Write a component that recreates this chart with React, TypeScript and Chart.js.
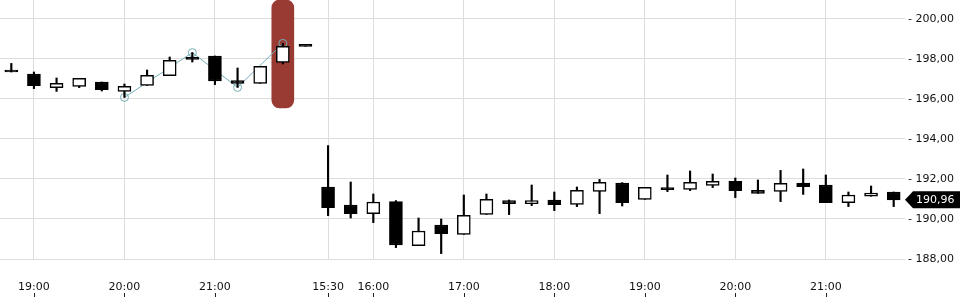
import React, { useEffect, useRef } from 'react';
import { Chart, registerables } from 'chart.js';

Chart.register(...registerables);

// 15-minute candles: two sessions
const times = [
  '18:45', '19:00', '19:15', '19:30', '19:45', '20:00', '20:15', '20:30', '20:45', '21:00', '21:15', '21:30', '21:45', '22:00',
  '15:30', '15:45', '16:00', '16:15', '16:30', '16:45', '17:00', '17:15', '17:30', '17:45', '18:00', '18:15', '18:30', '18:45',
  '19:00', '19:15', '19:30', '19:45', '20:00', '20:15', '20:30', '20:45', '21:00', '21:15', '21:30', '21:45',
];

// indices of the categories that carry an axis label
const labeledIdx = [1, 5, 9, 14, 16, 20, 24, 28, 32, 36];

const opens = [
  197.36, 197.25, 196.57, 196.63, 196.85, 196.38, 196.68, 197.17, 198.05, 198.15, 196.92, 196.78, 197.83, 198.63,
  191.6, 190.7, 190.27, 190.87, 188.67, 189.7, 189.23, 190.23, 190.92, 190.77, 190.95, 190.73, 191.38, 191.8,
  190.98, 191.55, 191.48, 191.68, 191.88, 191.43, 191.38, 191.8, 191.7, 190.82, 191.14, 191.35,
];
const highs = [
  197.78, 197.35, 197.05, 197.03, 196.85, 196.75, 197.45, 198.1, 198.32, 198.15, 197.55, 197.63, 198.78, 198.63,
  193.67, 191.85, 191.25, 190.92, 190.05, 190.0, 191.2, 191.25, 190.95, 191.7, 191.35, 191.6, 191.98, 191.82,
  191.58, 192.2, 192.4, 192.25, 192.05, 191.95, 192.43, 192.5, 192.2, 191.35, 191.65, 191.35,
];
const lows = [
  197.35, 196.52, 196.38, 196.57, 196.4, 196.08, 196.68, 197.17, 197.85, 196.72, 196.58, 196.78, 197.75, 198.63,
  190.17, 190.05, 189.82, 188.57, 188.67, 188.27, 189.23, 190.23, 190.22, 190.67, 190.42, 190.62, 190.27, 190.65,
  190.98, 191.37, 191.42, 191.57, 191.07, 191.28, 190.87, 191.23, 190.82, 190.62, 191.14, 190.62,
];
const closes = [
  197.35, 196.67, 196.78, 197.03, 196.47, 196.63, 197.18, 197.93, 197.98, 196.9, 196.78, 197.63, 198.63, 198.63,
  190.57, 190.27, 190.85, 188.7, 189.4, 189.27, 190.18, 190.98, 190.77, 190.92, 190.72, 191.43, 191.83, 190.82,
  191.58, 191.47, 191.83, 191.88, 191.42, 191.28, 191.78, 191.62, 190.82, 191.2, 191.3, 190.96,
];

// zigzag pivots (index -> value)
const zigzagIdx = [5, 8, 10, 12];
const zigzagVal = [196.08, 198.32, 196.58, 198.78];

// highlighted candle and its band
const highlightIdx = 12;
const highlightBand = [195.55, 200.95];

const yTickValues = [188, 190, 192, 194, 196, 198, 200];
const yMin = 188;
const yMax = 200.95;

const FONT = 'DejaVu Sans';
const fmt = (v: number) => v.toFixed(2).replace('.', ',');

export default function App() {
  const ref = useRef<HTMLCanvasElement | null>(null);

  useEffect(() => {
    document.body.style.margin = '0';
    const canvas = ref.current;
    if (!canvas) return;

    const n = times.length;
    const bodies = opens.map((o, i) => [o, closes[i]]);
    const wicks = lows.map((l, i) => [l, highs[i]]);
    const bodyColors = opens.map((o, i) => (closes[i] <= o ? '#000000' : '#ffffff'));
    const zig: (number | null)[] = new Array(n).fill(null);
    zigzagIdx.forEach((ix, k) => (zig[ix] = zigzagVal[k]));
    const hl: (number[] | null)[] = new Array(n).fill(null);
    hl[highlightIdx] = highlightBand;
    const lastClose = closes[n - 1];

    const xTickMarks = {
      id: 'xTickMarks',
      afterDraw(chart: any) {
        const xs = chart.scales.x;
        const ctx = chart.ctx;
        ctx.save();
        ctx.strokeStyle = '#222';
        ctx.lineWidth = 1;
        xs.ticks.forEach((t: any) => {
          const px = Math.round(xs.getPixelForValue(t.value)) + 0.5;
          ctx.beginPath();
          ctx.moveTo(px, 293);
          ctx.lineTo(px, 297);
          ctx.stroke();
        });
        ctx.restore();
      },
    };

    const lastTag = {
      id: 'lastTag',
      afterDraw(chart: any) {
        const ys = chart.scales.y;
        const ctx = chart.ctx;
        const y = ys.getPixelForValue(lastClose);
        const x0 = chart.chartArea.right;
        ctx.save();
        ctx.fillStyle = '#000';
        ctx.beginPath();
        ctx.moveTo(x0, y);
        ctx.lineTo(x0 + 8, y - 8.5);
        ctx.lineTo(chart.width, y - 8.5);
        ctx.lineTo(chart.width, y + 8.5);
        ctx.lineTo(x0 + 8, y + 8.5);
        ctx.closePath();
        ctx.fill();
        ctx.fillStyle = '#fff';
        ctx.font = `11px "${FONT}"`;
        ctx.textBaseline = 'middle';
        ctx.textAlign = 'left';
        ctx.fillText(fmt(lastClose), x0 + 11, y);
        ctx.restore();
      },
    };

    const chart = new Chart(canvas, {
      type: 'bar',
      data: {
        labels: times,
        datasets: [
          {
            type: 'bar',
            data: bodies as any,
            backgroundColor: bodyColors,
            borderColor: '#000',
            borderWidth: 1.5,
            borderSkipped: false,
            barThickness: 13,
            minBarLength: 2,
            grouped: false,
            order: 1,
          } as any,
          {
            type: 'bar',
            data: wicks as any,
            backgroundColor: '#000',
            borderWidth: 0,
            barThickness: 1.5,
            grouped: false,
            order: 2,
          } as any,
          {
            type: 'line',
            data: zig,
            spanGaps: true,
            borderColor: '#72aeb4',
            borderWidth: 1,
            pointRadius: 4,
            pointBorderWidth: 1,
            pointBorderColor: '#72aeb4',
            pointBackgroundColor: 'rgba(0,0,0,0)',
            tension: 0,
            order: 3,
          } as any,
          {
            type: 'bar',
            data: hl as any,
            backgroundColor: '#9a3b33',
            borderWidth: 0,
            borderRadius: 8,
            borderSkipped: false,
            barThickness: 22,
            grouped: false,
            order: 4,
          } as any,
        ],
      },
      options: {
        responsive: false,
        animation: false,
        layout: { padding: 0, autoPadding: false },
        plugins: { legend: { display: false }, tooltip: { enabled: false } },
        scales: {
          x: {
            type: 'category',
            offset: true,
            grid: { offset: false, color: '#dddddd', drawTicks: false },
            border: { display: false },
            ticks: {
              autoSkip: false,
              maxRotation: 0,
              padding: 22,
              color: '#111',
              font: { family: FONT, size: 11 },
            },
            afterBuildTicks: (ax: any) => {
              ax.ticks = ax.ticks.filter((t: any) => labeledIdx.includes(t.value));
            },
            afterFit: (ax: any) => {
              ax.height = 41;
              ax.paddingLeft = 0;
              ax.paddingRight = 0;
            },
          },
          y: {
            position: 'right',
            min: yMin,
            max: yMax,
            grid: { color: '#dddddd', drawTicks: false },
            border: { display: false },
            ticks: {
              padding: 3,
              color: '#111',
              font: { family: FONT, size: 11 },
              callback: (v: any) => '- ' + fmt(Number(v)),
            },
            afterBuildTicks: (ax: any) => {
              ax.ticks = yTickValues.map((v) => ({ value: v }));
            },
            afterFit: (ax: any) => {
              ax.width = 55;
              ax.paddingTop = 0;
              ax.paddingBottom = 0;
            },
          },
        },
      } as any,
      plugins: [xTickMarks, lastTag],
    });

    return () => chart.destroy();
  }, []);

  return (
    <div style={{ position: 'fixed', left: 0, top: 0, width: 960, height: 300 }}>
      <canvas ref={ref} width={960} height={300} />
    </div>
  );
}
